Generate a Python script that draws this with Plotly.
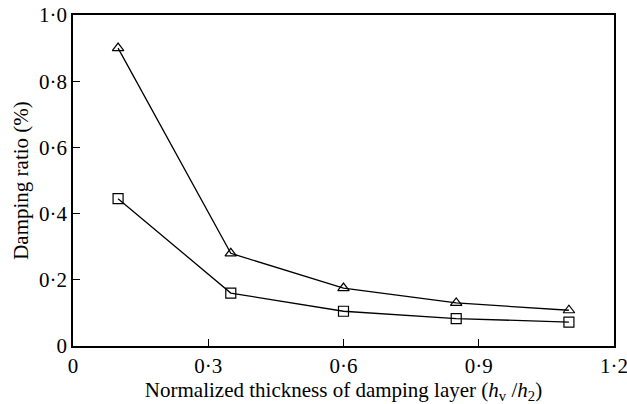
import plotly.graph_objects as go

# Normalized thickness of the damping layer (h_v / h_2)
thickness = [0.1, 0.35, 0.6, 0.85, 1.1]
# Damping ratio (%) for the two configurations
ratio_triangle = [0.90, 0.28, 0.175, 0.13, 0.108]
ratio_square = [0.445, 0.16, 0.105, 0.083, 0.072]

x_tickvals = [0, 0.3, 0.6, 0.9, 1.2]
x_ticktext = ["0", "0·3", "0·6", "0·9", "1·2"]
y_tickvals = [0, 0.2, 0.4, 0.6, 0.8, 1.0]
y_ticktext = ["0", "0·2", "0·4", "0·6", "0·8", "1·0"]

font_family = "Liberation Serif"
font_size = 21

fig = go.Figure()
fig.add_trace(go.Scatter(
    x=thickness, y=ratio_triangle, mode="lines+markers",
    line=dict(color="black", width=1.3),
    marker=dict(symbol="triangle-up-open", size=10, color="black",
                line=dict(width=1.2, color="black")),
    showlegend=False, cliponaxis=False,
))
fig.add_trace(go.Scatter(
    x=thickness, y=ratio_square, mode="lines+markers",
    line=dict(color="black", width=1.3),
    marker=dict(symbol="square-open", size=10, color="black",
                line=dict(width=1.2, color="black")),
    showlegend=False, cliponaxis=False,
))

axis_common = dict(
    showline=True, linecolor="black", linewidth=1.5, mirror=True,
    showgrid=False, zeroline=False, automargin=False,
    ticks="inside", ticklen=7, tickwidth=1.2, tickcolor="black",
    ticklabeloverflow="allow",
    tickfont=dict(family=font_family, size=font_size, color="black"),
)

fig.update_xaxes(
    range=[0, 1.2], tickvals=x_tickvals, ticktext=x_ticktext,
    ticklabelstandoff=0,
    title=dict(
        text="Normalized thickness of damping layer (<i>h</i><sub>v</sub> /<i>h</i><sub>2</sub>)",
        font=dict(family=font_family, size=font_size, color="black"), standoff=3),
    **axis_common,
)
fig.update_yaxes(
    range=[0, 1.0], tickvals=y_tickvals, ticktext=y_ticktext,
    ticklabelstandoff=0,
    title=dict(text="Damping ratio (%)",
               font=dict(family=font_family, size=font_size, color="black"), standoff=5),
    **axis_common,
)

fig.update_layout(
    width=627, height=404,
    margin=dict(l=73, r=13, t=15, b=58),
    plot_bgcolor="white", paper_bgcolor="white",
    font=dict(family=font_family, color="black"),
)

fig.write_html("out.html")
